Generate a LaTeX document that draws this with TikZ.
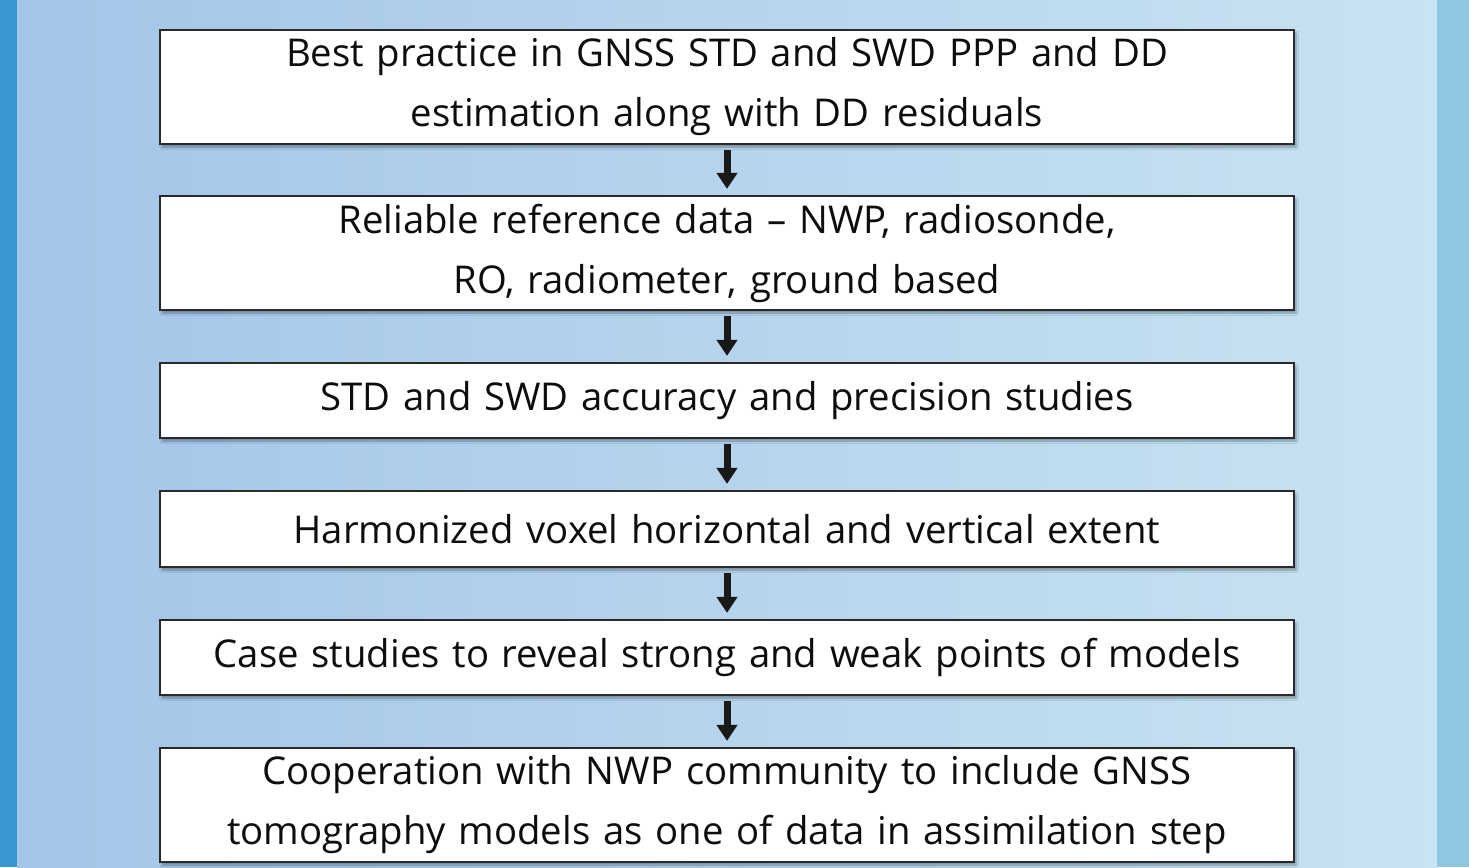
\documentclass[tikz,border=0pt]{standalone}
\usepackage{fontspec}
\setmainfont{Open Sans}
\usetikzlibrary{arrows.meta,shadows.blur}
\definecolor{bgL}{HTML}{A3C5E8}
\definecolor{bgR}{HTML}{C8E3F1}
\definecolor{stripeL}{HTML}{3A96D0}
\definecolor{stripeR}{HTML}{8FC6E2}
\definecolor{edge}{HTML}{2A2A2A}
\tikzset{
  stepbox/.style={draw=edge, line width=2.2pt, fill=white, minimum width=1134pt, text width=1120pt, align=center, inner sep=0pt,
    font=\fontsize{38.3}{60}\selectfont, text=black!95, blur shadow={shadow xshift=2pt, shadow yshift=-3pt, shadow blur steps=6, shadow opacity=35}},
  flow/.style={line width=7pt, draw=black!90, -{Triangle[width=20pt,length=16pt]}, shorten <=5pt, shorten >=6pt}
}
\begin{document}
\begin{tikzpicture}[x=1pt,y=-1pt]
\useasboundingbox (0,0) rectangle (1469,867);
\shade[left color=bgL, right color=bgR] (17,0) rectangle (1437,867);
\fill[stripeL] (0,0) rectangle (17,867);
\fill[stripeR] (1437,0) rectangle (1469,867);
\node[stepbox, minimum height=114pt] (b1) at (727,87) {Best practice in GNSS STD and SWD PPP and DD\\estimation along with DD residuals};
\node[stepbox, minimum height=114pt] (b2) at (727,253) {Reliable reference data -- NWP, radiosonde,\\RO, radiometer, ground based};
\node[stepbox, minimum height=75pt] (b3) at (727,400.5) {STD and SWD accuracy and precision studies};
\node[stepbox, minimum height=76pt] (b4) at (727,529) {Harmonized voxel horizontal and vertical extent};
\node[stepbox, minimum height=75pt] (b5) at (727,657.5) {Case studies to reveal strong and weak points of models};
\node[stepbox, minimum height=114pt] (b6) at (727,805) {Cooperation with NWP community to include GNSS\\tomography models as one of data in assimilation step};
\draw[flow] (b1) -- (b2);
\draw[flow] (b2) -- (b3);
\draw[flow] (b3) -- (b4);
\draw[flow] (b4) -- (b5);
\draw[flow] (b5) -- (b6);
\end{tikzpicture}
\end{document}
